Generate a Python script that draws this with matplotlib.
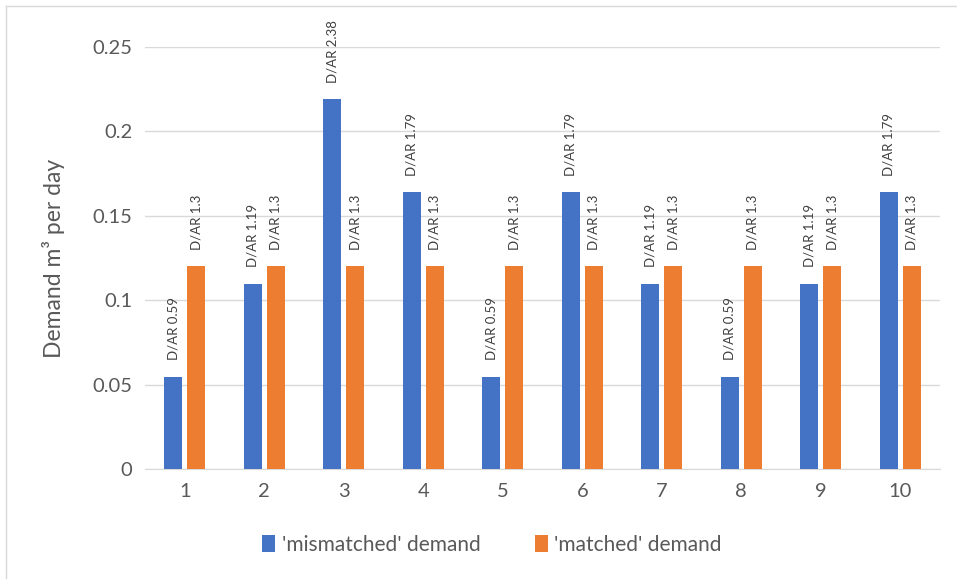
import matplotlib.pyplot as plt
import numpy as np

CATEGORIES = ["1", "2", "3", "4", "5", "6", "7", "8", "9", "10"]
MISMATCHED = [0.0545, 0.1095, 0.219, 0.164, 0.0545, 0.164, 0.1095, 0.0545, 0.1095, 0.164]
MATCHED = [0.12, 0.12, 0.12, 0.12, 0.12, 0.12, 0.12, 0.12, 0.12, 0.12]
MISMATCHED_LABELS = ["D/AR 0.59", "D/AR 1.19", "D/AR 2.38", "D/AR 1.79", "D/AR 0.59",
                     "D/AR 1.79", "D/AR 1.19", "D/AR 0.59", "D/AR 1.19", "D/AR 1.79"]
MATCHED_LABELS = ["D/AR 1.3"] * 10

BLUE = "#4472c4"
ORANGE = "#ed7d31"
GRID = "#d9d9d9"
TEXT = "#595959"

plt.rcParams["font.family"] = ["Lato", "DejaVu Sans"]


def main() -> None:
    fig = plt.figure(figsize=(9.57, 5.79), dpi=100)
    ax = fig.add_axes([145 / 957, 1 - 469 / 579, 795 / 957, (469 - 47) / 579])

    x = np.arange(len(CATEGORIES))
    w = 0.225
    off = 0.145
    b1 = ax.bar(x - off, MISMATCHED, w, color=BLUE, label="'mismatched' demand", zorder=3)
    b2 = ax.bar(x + off, MATCHED, w, color=ORANGE, label="'matched' demand", zorder=3)

    for bars, labels in ((b1, MISMATCHED_LABELS), (b2, MATCHED_LABELS)):
        for rect, lab in zip(bars, labels):
            ax.annotate(lab, (rect.get_x() + rect.get_width() / 2, rect.get_height()),
                        xytext=(0, 12), textcoords="offset points", rotation=90,
                        ha="center", va="bottom", fontsize=9.5, color="#404040",
                        annotation_clip=False)

    ax.set_xlim(-0.5, 9.5)
    ax.set_ylim(0, 0.25)
    ax.set_yticks([0, 0.05, 0.1, 0.15, 0.2, 0.25])
    ax.set_yticklabels(["0", "0.05", "0.1", "0.15", "0.2", "0.25"])
    ax.set_xticks(x)
    ax.set_xticklabels(CATEGORIES)
    ax.tick_params(axis="both", length=0, labelsize=14.5, colors=TEXT)
    ax.tick_params(axis="x", pad=10)
    ax.tick_params(axis="y", pad=9)
    ax.grid(axis="y", color=GRID, linewidth=1, zorder=0)
    for side in ("left", "right", "top"):
        ax.spines[side].set_visible(False)
    ax.spines["bottom"].set_color(GRID)
    ax.set_ylabel("Demand m³ per day", fontsize=16.5, color=TEXT, labelpad=20)

    fig.legend(handles=[b1, b2], loc="center", bbox_to_anchor=(0.514, 1 - 545 / 579),
               ncol=2, frameon=False, fontsize=15, labelcolor=TEXT,
               handlelength=0.65, handleheight=0.9, columnspacing=2.6, handletextpad=0.3)

    fig.add_artist(plt.Line2D([6 / 957, 6 / 957], [0, 1 - 6 / 579], color=GRID, lw=1))
    fig.add_artist(plt.Line2D([6 / 957, 1], [1 - 6 / 579, 1 - 6 / 579], color=GRID, lw=1))

    fig.savefig("out.png", dpi=100)


if __name__ == "__main__":
    main()
